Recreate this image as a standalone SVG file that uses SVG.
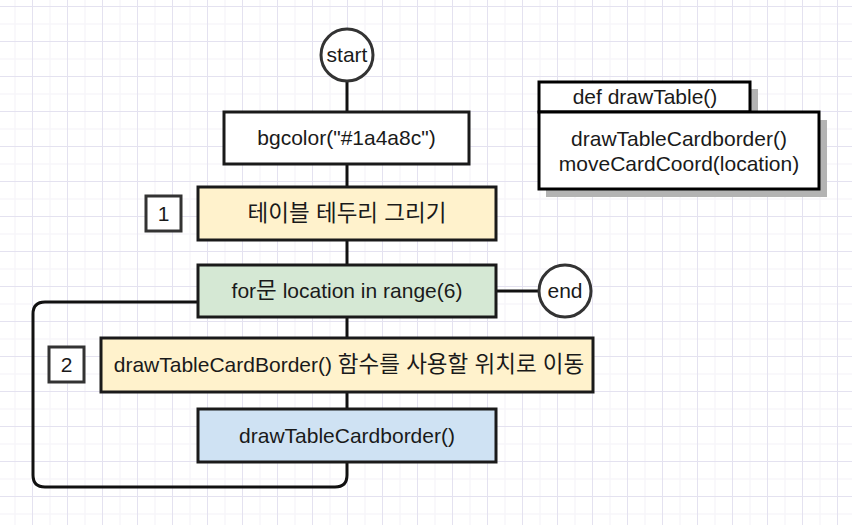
<svg xmlns="http://www.w3.org/2000/svg" width="852" height="525" viewBox="0 0 852 525">
<style>
  .t { font-family: "Liberation Sans", "Noto Sans CJK KR", sans-serif; font-size: 21px; fill: #1a1a1a; text-anchor: middle; }
  .k { font-size: 22.5px; }
  .box { stroke: #1a1a1a; stroke-width: 3; }
  .num { fill: #ffffff; stroke: #333333; stroke-width: 3; }
  .conn { fill: none; stroke: #111111; stroke-width: 3; }
  .shadow { fill: #b3b3b3; }
</style>
<defs>
  <pattern id="grid" x="32" y="6" width="35" height="35" patternUnits="userSpaceOnUse">
    <rect x="17.5" y="0" width="1" height="35" fill="#f3f2f8"/>
    <rect x="0" y="17.5" width="35" height="1" fill="#f3f2f8"/>
    <rect x="0" y="0" width="1" height="35" fill="#e4e2f0"/>
    <rect x="0" y="0" width="35" height="1" fill="#e4e2f0"/>
  </pattern>
</defs>
<rect width="852" height="525" fill="#ffffff"/>
<rect width="852" height="525" fill="url(#grid)"/>

<g id="connectors">
  <line class="conn" x1="347" y1="82" x2="347" y2="112"/>
  <line class="conn" x1="347" y1="164" x2="347" y2="187"/>
  <line class="conn" x1="347" y1="240" x2="347" y2="265"/>
  <line class="conn" x1="347" y1="317" x2="347" y2="338"/>
  <line class="conn" x1="347" y1="392" x2="347" y2="409"/>
  <line class="conn" x1="496" y1="291" x2="539" y2="291"/>
  <path class="conn" d="M198,302 H45 Q33,302 33,314 V475 Q33,487 45,487 H335 Q347,487 347,475 V462"/>
</g>

<g id="start">
  <circle cx="347" cy="55" r="26" fill="#ffffff" stroke="#333333" stroke-width="3"/>
  <text class="t" x="347" y="62">start</text>
</g>

<g id="bgcolor">
  <rect class="box" x="224" y="112" width="245" height="52" fill="#ffffff" stroke="#333333"/>
  <text class="t" x="346.5" y="145">bgcolor("#1a4a8c")</text>
</g>

<g id="num1">
  <rect class="num" x="146" y="196" width="35" height="35"/>
  <text class="t" x="163.5" y="221">1</text>
</g>

<g id="drawBorder">
  <rect class="box" x="198" y="187" width="298" height="53" fill="#fff2cc" stroke="#111111"/>
  <text class="t k" x="347" y="221">테이블 테두리 그리기</text>
</g>

<g id="forLoop">
  <rect class="box" x="198" y="265" width="298" height="52" fill="#d5e8d4" stroke="#333333"/>
  <text class="t" x="347" y="298">for<tspan class="k">문</tspan> location in range(6)</text>
</g>

<g id="end">
  <circle cx="565" cy="291" r="26" fill="#ffffff" stroke="#333333" stroke-width="3"/>
  <text class="t" x="565" y="298">end</text>
</g>

<g id="num2">
  <rect class="num" x="49" y="347" width="35" height="35"/>
  <text class="t" x="66.5" y="372">2</text>
</g>

<g id="moveCoord">
  <rect class="box" x="101" y="338" width="492" height="54" fill="#fff2cc" stroke="#333333"/>
  <text class="t" x="349" y="372">drawTableCardBorder() <tspan class="k">함수를 사용할 위치로 이동</tspan></text>
</g>

<g id="drawCard">
  <rect class="box" x="198" y="409" width="298" height="53" fill="#cfe2f3" stroke="#111111"/>
  <text class="t" x="347" y="443">drawTableCardborder()</text>
</g>

<g id="defTable">
  <rect class="shadow" x="546" y="89" width="212" height="31"/>
  <rect class="shadow" x="546" y="120" width="281" height="77"/>
  <rect x="539" y="82" width="211" height="30" fill="#ffffff" stroke="#000000" stroke-width="3"/>
  <rect x="539" y="112" width="280" height="77" fill="#ffffff" stroke="#000000" stroke-width="3"/>
  <text class="t" x="645" y="104">def drawTable()</text>
  <text class="t" x="679" y="146">drawTableCardborder()</text>
  <text class="t" x="679" y="171">moveCardCoord(location)</text>
</g>
</svg>
